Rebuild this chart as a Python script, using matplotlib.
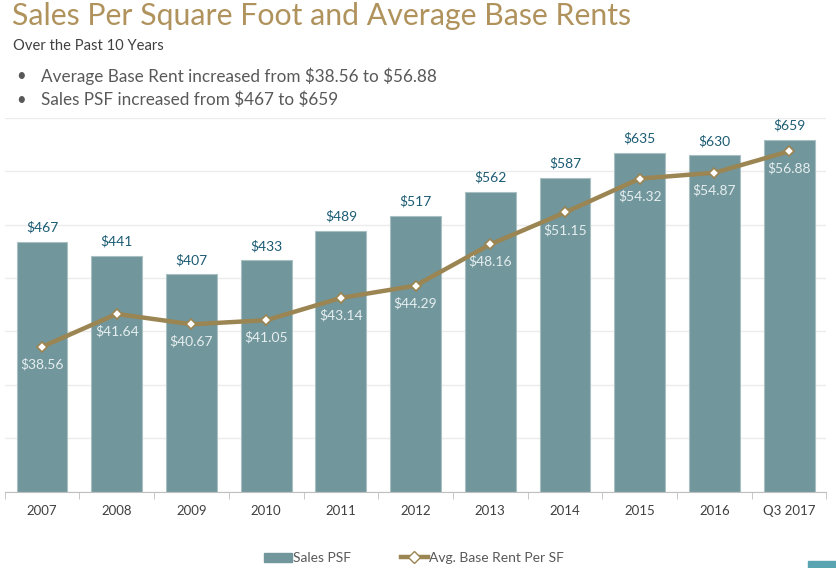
import numpy as np
import matplotlib.pyplot as plt
from matplotlib.lines import Line2D
from matplotlib import patches

plt.rcParams['font.family'] = ['Lato', 'DejaVu Sans']

years = ['2007', '2008', '2009', '2010', '2011', '2012', '2013', '2014', '2015', '2016', 'Q3 2017']
sales_psf = [467, 441, 407, 433, 489, 517, 562, 587, 635, 630, 659]
base_rent = [38.56, 41.64, 40.67, 41.05, 43.14, 44.29, 48.16, 51.15, 54.32, 54.87, 56.88]

bar_c = '#71969b'
line_c = '#9b8552'
gold = '#b0925c'

W, H = 837, 568
fig = plt.figure(figsize=(W / 100, H / 100), dpi=100)
# axes in pixel coords of the reference
x0, x1, ytop, ybot = 4.7, 826.5, 118, 491.5
ax = fig.add_axes([x0 / W, 1 - ybot / H, (x1 - x0) / W, (ybot - ytop) / H])

x = np.arange(len(years))
ax.bar(x, sales_psf, width=0.68, color=bar_c, edgecolor='#a9c0c3', linewidth=0.8, zorder=2)
ax.set_xlim(-0.5, len(years) - 0.5)
ax.set_ylim(0, 700)
ax.set_yticks(np.arange(0, 701, 100))
ax.yaxis.grid(True, color='#ececec', lw=1)
ax.set_axisbelow(True)
for s in ['top', 'right', 'left']:
    ax.spines[s].set_visible(False)
ax.spines['bottom'].set_color('#bfbfbf')
ax.set_xticks(x)
ax.set_xticklabels(years, fontsize=9.5, color='#404040')
ax.tick_params(axis='x', length=0, pad=10)
ax.set_xticks(np.arange(-0.5, len(years)), minor=True)
ax.tick_params(axis='x', which='minor', length=5, color='#bfbfbf')

for xi, v in zip(x, sales_psf):
    ax.annotate(r'\$%d' % v, (xi, v), xytext=(0, 6), textcoords='offset points',
                ha='center', va='bottom', fontsize=10, color='#1b5b73')

ax2 = ax.twinx()
ax2.set_ylim(25, 60)
ax2.axis('off')
ax.tick_params(axis='y', which='both', left=False, right=False, labelleft=False)
ax2.plot(x, base_rent, color=line_c, lw=3.2, marker='D', ms=5.5,
         mfc='white', mec=line_c, mew=1.2, zorder=3)
for xi, v in zip(x, base_rent):
    ax2.annotate(r'\$%.2f' % v, (xi, v), xytext=(0, -8), textcoords='offset points',
                 ha='center', va='top', fontsize=10, color='#e6eef0')

fig.text(12 / W, 1 - 16 / H, 'Sales Per Square Foot and Average Base Rents',
         fontsize=21.8, color=gold, va='center', ha='left')
fig.text(13 / W, 1 - 46 / H, 'Over the Past 10 Years', fontsize=10.6, color='#404040', va='center')
fig.text(16 / W, 1 - 76 / H, '\u2022', fontsize=12, color='#595959', va='center')
fig.text(41 / W, 1 - 76 / H, r'Average Base Rent increased from \$38.56 to \$56.88',
         fontsize=12.3, color='#595959', va='center')
fig.text(16 / W, 1 - 100 / H, '\u2022', fontsize=12, color='#595959', va='center')
fig.text(41 / W, 1 - 100 / H, r'Sales PSF increased from \$467 to \$659',
         fontsize=12.3, color='#595959', va='center')

handles = [patches.Patch(color=bar_c, label='Sales PSF'),
           Line2D([0], [0], color=line_c, lw=3.2, marker='D', ms=6, mfc='white',
                  mec=line_c, label='Avg. Base Rent Per SF')]
fig.legend(handles=handles, loc='center', bbox_to_anchor=(414 / W, 1 - 558 / H), ncol=2,
           frameon=False, fontsize=10, labelcolor='#595959', handlelength=2.0,
           handleheight=0.6, handletextpad=0.05, columnspacing=3.6)

fig.patches.append(patches.Rectangle((808 / W, 0), 29 / W, 7 / H, color='#5aa3b0',
                                     transform=fig.transFigure, figure=fig))

fig.savefig('out.png', dpi=100)
